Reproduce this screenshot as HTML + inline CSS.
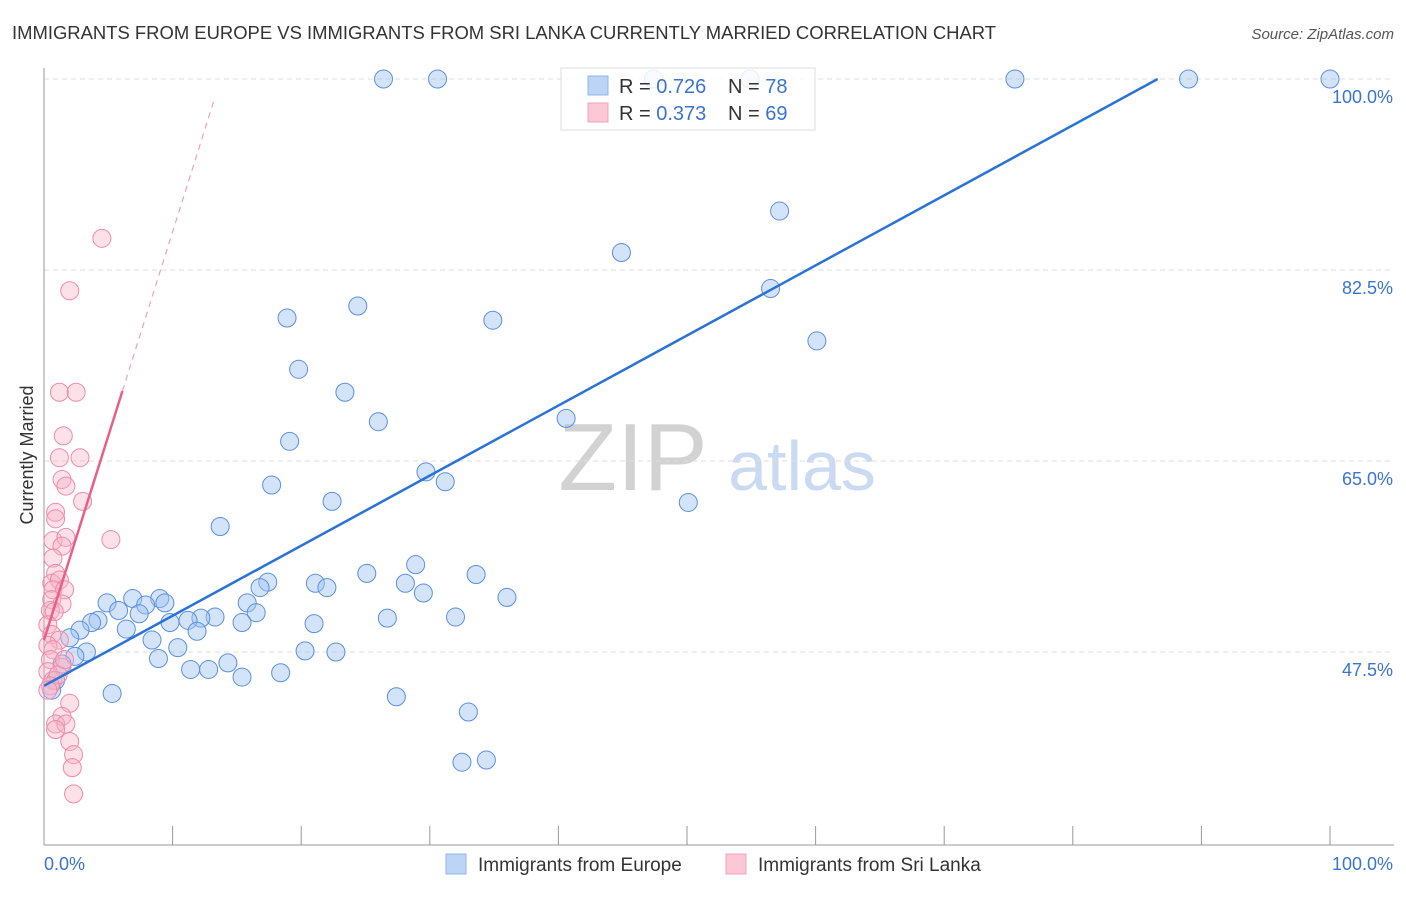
<!DOCTYPE html>
<html><head><meta charset="utf-8">
<style>
body{margin:0;background:#fff;font-family:"Liberation Sans",sans-serif;}
svg text{font-family:"Liberation Sans",sans-serif;}
</style></head>
<body>
<svg id="chart" width="1406" height="892" xmlns="http://www.w3.org/2000/svg">
<text x="12" y="39" font-size="18.4" fill="#333" textLength="984" lengthAdjust="spacingAndGlyphs">IMMIGRANTS FROM EUROPE VS IMMIGRANTS FROM SRI LANKA CURRENTLY MARRIED CORRELATION CHART</text>
<text x="1394" y="39" font-size="15" fill="#555" text-anchor="end" font-style="italic">Source: ZipAtlas.com</text>
<g>
<text x="633" y="490" font-size="96" fill="#d2d2d2" font-family="Liberation Serif" text-anchor="middle">ZIP</text>
<text x="802" y="490" font-size="70" fill="#c9daf2" text-anchor="middle">atlas</text>
</g>
<g id="grid"></g>
<g id="axes"></g>
<g id="points"></g>
<g id="lines"></g>
<text transform="translate(33,455) rotate(-90)" font-size="18" fill="#333" text-anchor="middle">Currently Married</text>
<g>
<rect x="561" y="68" width="254" height="62" fill="rgba(255,255,255,0.85)" stroke="#ddd"/>
<rect x="588" y="76" width="20" height="19" fill="#bcd4f5" stroke="#8fb4e8"/>
<rect x="588" y="103" width="20" height="19" fill="#fcc8d6" stroke="#f2a0b8"/>
<text x="619" y="93" font-size="20" fill="#333">R = <tspan fill="#3a74d0">0.726</tspan></text>
<text x="728" y="93" font-size="20" fill="#333">N = <tspan fill="#3a74d0">78</tspan></text>
<text x="619" y="120" font-size="20" fill="#333">R = <tspan fill="#3a74d0">0.373</tspan></text>
<text x="728" y="120" font-size="20" fill="#333">N = <tspan fill="#3a74d0">69</tspan></text>
</g>
<g>
<rect x="446" y="854" width="20" height="20" fill="#bcd4f5" stroke="#8fb4e8"/>
<text x="478" y="871" font-size="19" fill="#333">Immigrants from Europe</text>
<rect x="726" y="854" width="20" height="20" fill="#fcc8d6" stroke="#f2a0b8"/>
<text x="758" y="871" font-size="19" fill="#333">Immigrants from Sri Lanka</text>
</g>
</svg>
<script>
const yTicks=[47.5,65,82.5,100];
const yTickLabels=["47.5%","65.0%","82.5%","100.0%"];
const xTickCount=10;
const blueX=[26.4,30.6,47.4,54.9,75.5,89.0,100,57.2,44.9,56.5,18.9,24.4,34.9,60.1,19.8,23.4,26.0,40.6,19.1,29.7,31.2,17.7,22.4,50.1,13.7,28.9,25.1,33.6,17.4,16.8,21.1,22.0,28.1,29.5,36.0,6.9,9.0,7.9,9.4,4.9,5.8,7.4,15.8,16.5,13.3,12.2,11.2,9.8,15.4,21.0,26.7,32.0,4.2,3.7,6.4,11.9,2.8,8.4,2.0,10.4,3.3,2.4,8.9,20.3,22.7,14.3,11.4,12.8,15.4,18.4,1.4,0.9,5.3,27.4,33.0,32.5,34.4,0.6];
const blueY=[100,100,100,100,100,100,100,87.9,84.1,80.8,78.1,79.2,77.9,76.0,73.4,71.3,68.6,68.9,66.8,64.0,63.1,62.8,61.3,61.2,59.0,55.5,54.7,54.6,53.9,53.4,53.8,53.4,53.8,52.9,52.5,52.4,52.4,51.8,52.0,52.0,51.3,51.0,52.0,51.1,50.7,50.6,50.4,50.2,50.2,50.1,50.6,50.7,50.4,50.2,49.6,49.4,49.5,48.6,48.8,47.9,47.5,47.1,46.9,47.6,47.5,46.5,45.9,45.9,45.2,45.6,46.4,44.9,43.7,43.4,42.0,37.4,37.6,44.0];
const pinkX=[4.5,2.0,1.2,2.5,1.5,1.2,2.8,1.4,1.7,3.0,0.9,0.9,5.2,0.7,1.7,1.4,0.7,0.9,0.6,1.2,0.7,1.6,0.6,1.4,0.5,0.8,0.3,0.6,1.2,0.3,0.7,0.5,1.4,0.3,0.7,1.1,0.5,2.0,1.4,0.9,1.7,0.9,2.0,2.3,2.2,2.3,0.3,1.6];
const pinkY=[85.4,80.6,71.3,71.3,67.3,65.3,65.3,63.3,62.7,61.3,60.3,59.7,57.8,57.7,58.0,57.2,56.1,54.7,53.8,54.1,53.2,53.2,52.3,51.9,51.3,51.2,50.0,49.1,48.6,48.1,47.7,46.8,46.1,45.7,44.9,45.4,44.4,42.8,41.6,40.9,40.9,40.4,39.3,38.1,36.9,34.5,44.0,46.8];
const blueTrend=[44.4,0.642]; // intercept, slope
const pinkTrend=[48.6,3.74];
const pinkSolidEnd=6.1, blueEnd=86.6, pinkDashEnd=13.3;

const NS="http://www.w3.org/2000/svg";
const X=v=>44+v*12.86, Y=v=>79+(100-v)*10.914;
function mk(tag,attrs,parent){const e=document.createElementNS(NS,tag);for(const k in attrs)e.setAttribute(k,attrs[k]);document.getElementById(parent).appendChild(e);return e;}
yTicks.forEach((t,i)=>{
 const g=mk('line',{x1:44,x2:1394,y1:Y(t),y2:Y(t),stroke:'#ddd','stroke-dasharray':'5,4'},'grid');
 
 
 const l=mk('text',{x:1393,y:Y(t)+24,'font-size':18,fill:'#3a74d0','text-anchor':'end'},'axes');
 l.textContent=yTickLabels[i];
 
 
});
const ax=mk('line',{x1:44,x2:44,y1:68,y2:845,stroke:'#999'},'axes');


const bx=mk('line',{x1:44,x2:1394,y1:845,y2:845,stroke:'#999'},'axes');


for(let i=0;i<=xTickCount;i++){
 const t=mk('line',{x1:X(i*10),x2:X(i*10),y1:826,y2:845,stroke:'#999'},'axes');
 
 
}
const xl=mk('text',{x:44,y:870,'font-size':18,fill:'#3a74d0'},'axes');xl.textContent='0.0%';


const xr=mk('text',{x:1393,y:870,'font-size':18,fill:'#3a74d0','text-anchor':'end'},'axes');xr.textContent='100.0%';


blueX.forEach((v,i)=>{
 const c=mk('circle',{cx:X(v),cy:Y(blueY[i]),r:9,fill:'rgba(160,196,240,0.45)',stroke:'#5b8fe0','stroke-width':1},'points');
 
 
});
pinkX.forEach((v,i)=>{
 const c=mk('circle',{cx:X(v),cy:Y(pinkY[i]),r:9,fill:'rgba(248,180,200,0.4)',stroke:'#f08aa8','stroke-width':1},'points');
 
 
});
const bl=mk('line',{x1:X(0),y1:Y(blueTrend[0]),x2:X(blueEnd),y2:Y(blueTrend[0]+blueTrend[1]*blueEnd),stroke:'#2a72d6','stroke-width':2.5},'lines');


const pl=mk('line',{x1:X(0),y1:Y(pinkTrend[0]),x2:X(pinkSolidEnd),y2:Y(pinkTrend[0]+pinkTrend[1]*pinkSolidEnd),stroke:'#e8608a','stroke-width':2.5},'lines');


const pd=mk('line',{x1:X(pinkSolidEnd),y1:Y(pinkTrend[0]+pinkTrend[1]*pinkSolidEnd),x2:X(pinkDashEnd),y2:Y(pinkTrend[0]+pinkTrend[1]*pinkDashEnd),stroke:'#f0a0b8','stroke-width':1.2,'stroke-dasharray':'6,5'},'lines');


</script>
</body></html>
